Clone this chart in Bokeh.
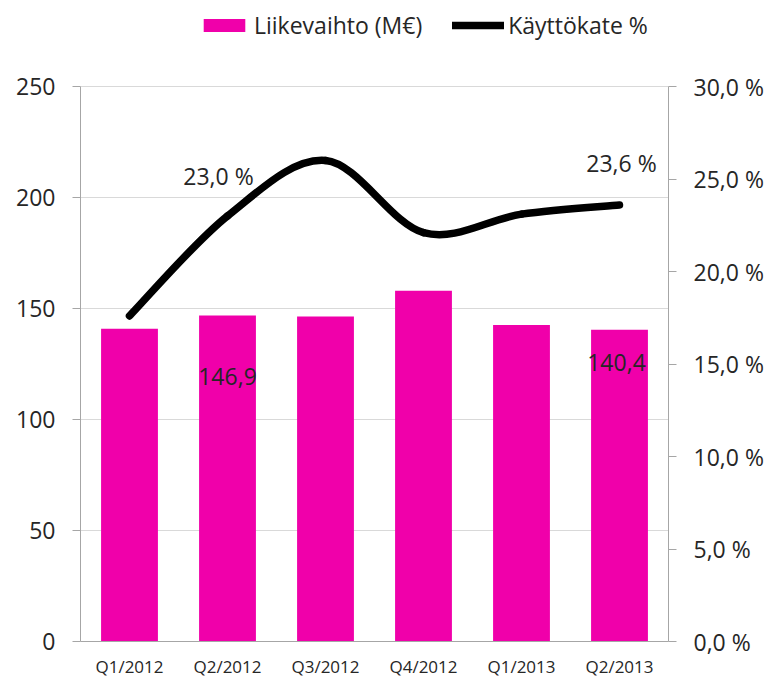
from bokeh.plotting import figure
from bokeh.models import Range1d, LinearAxis, FixedTicker, Legend, LegendItem, ColumnDataSource
from bokeh.core.properties import value
from bokeh.embed import file_html
from bokeh.resources import INLINE

# ---- data ----
quarters = ["Q1/2012", "Q2/2012", "Q3/2012", "Q4/2012", "Q1/2013", "Q2/2013"]
revenue = [140.9, 146.9, 146.4, 158.0, 142.6, 140.4]          # Liikevaihto (M€)
ebitda_pct = [17.6, 23.0, 26.0, 22.1, 23.1, 23.6]             # Käyttökate %
left_ticks = [0, 50, 100, 150, 200, 250]
right_ticks = [0, 5, 10, 15, 20, 25, 30]
right_tick_labels = ["0,0 %", "5,0 %", "10,0 %", "15,0 %", "20,0 %", "25,0 %", "30,0 %"]
pct_label_idx = [1, 5]
pct_label_text = ["23,0 %", "23,6 %"]
bar_label_idx = [1, 5]
bar_label_text = ["146,9", "140,4"]

FONT = "Open Sans"
TXT = "#262626"
PINK = "#F000AA"
AX = "#a6a6a6"

n = len(quarters)
xs = [i + 0.5 for i in range(n)]

# layout geometry (pixels): axis area spans 86..641 for 0..250; frame top at 6
TOP_B, BOT_B = 6, 39
y_max, pct_max = 250, 30
px_per = (641 - 86) / y_max
y_top = y_max + (86 - TOP_B) / px_per
pct_top = pct_max + (86 - TOP_B) / ((641 - 86) / pct_max)

p = figure(width=768, height=680, output_backend="svg", toolbar_location=None,
           x_range=Range1d(0, n), y_range=Range1d(0, y_top),
           min_border_left=80, min_border_right=100, min_border_top=TOP_B,
           min_border_bottom=BOT_B)
p.extra_y_ranges = {"pct": Range1d(0, pct_top)}
p.outline_line_color = None
p.background_fill_color = "white"
p.border_fill_color = "white"

# bars
bar_src = ColumnDataSource(dict(x=xs, top=revenue))
bars = p.vbar(x="x", top="top", bottom=0, width=0.58, source=bar_src,
              fill_color=PINK, line_color=None)

# smoothed line via bezier segments (Catmull-Rom control points from data)
x0, y0, x1, y1, cx0, cy0, cx1, cy1 = [], [], [], [], [], [], [], []
for i in range(n - 1):
    pa = (xs[i - 1], ebitda_pct[i - 1]) if i > 0 else (xs[i], ebitda_pct[i])
    pb = (xs[i], ebitda_pct[i])
    pc = (xs[i + 1], ebitda_pct[i + 1])
    pd = (xs[i + 2], ebitda_pct[i + 2]) if i + 2 < n else pc
    x0.append(pb[0]); y0.append(pb[1]); x1.append(pc[0]); y1.append(pc[1])
    cx0.append(pb[0] + (pc[0] - pa[0]) / 6.0); cy0.append(pb[1] + (pc[1] - pa[1]) / 6.0)
    cx1.append(pc[0] - (pd[0] - pb[0]) / 6.0); cy1.append(pc[1] - (pd[1] - pb[1]) / 6.0)
LW = 7.5
p.bezier(x0=x0, y0=y0, x1=x1, y1=y1, cx0=cx0, cy0=cy0, cx1=cx1, cy1=cy1,
         line_color="black", line_width=LW, line_cap="round", y_range_name="pct")
# legend proxy for the line series (no visible data)
nan = float("nan")
legend_line = p.line(x=[xs[0], xs[1]], y=[nan, nan], line_color="black", line_width=LW,
                     line_cap="round", y_range_name="pct")

# data labels
p.text(x=[xs[i] for i in pct_label_idx], y=[ebitda_pct[i] for i in pct_label_idx],
       text=pct_label_text, x_offset=[-9, 2], y_offset=[-40, -42], y_range_name="pct",
       text_align="center", text_baseline="middle", text_font=value(FONT),
       text_font_size="23px", text_color=TXT)
p.text(x=[xs[i] for i in bar_label_idx], y=[revenue[i] for i in bar_label_idx],
       text=bar_label_text, x_offset=[0, -3], y_offset=[61, 33],
       text_align="center", text_baseline="middle", text_font=value(FONT),
       text_font_size="23px", text_color=TXT)

# axes
p.xgrid.grid_line_color = None
p.ygrid.grid_line_color = "#d9d9d9"
p.ygrid.ticker = FixedTicker(ticks=left_ticks)

xa = p.xaxis[0]
xa.ticker = FixedTicker(ticks=xs)
xa.major_label_overrides = {x: q for x, q in zip(xs, quarters)}
xa.major_tick_line_color = None
xa.major_tick_out = 0
xa.major_tick_in = 0
xa.minor_tick_line_color = None
xa.axis_line_color = AX
xa.major_label_standoff = 13
xa.major_label_text_font = FONT
xa.major_label_text_font_size = "17px"
xa.major_label_text_color = TXT

ya = p.yaxis[0]
ya.ticker = FixedTicker(ticks=left_ticks)
ya.bounds = (0, y_max)
ya.axis_line_color = AX
ya.major_tick_line_color = AX
ya.major_tick_out = 8
ya.major_tick_in = 0
ya.minor_tick_line_color = None
ya.major_label_standoff = 17
ya.major_label_text_font = FONT
ya.major_label_text_font_size = "23px"
ya.major_label_text_color = TXT

ra = LinearAxis(y_range_name="pct", ticker=FixedTicker(ticks=right_ticks))
ra.bounds = (0, pct_max)
ra.major_label_overrides = {t: l for t, l in zip(right_ticks, right_tick_labels)}
ra.axis_line_color = AX
ra.major_tick_line_color = AX
ra.major_tick_out = 8
ra.major_tick_in = 0
ra.minor_tick_line_color = None
ra.major_label_standoff = 17
ra.major_label_text_font = FONT
ra.major_label_text_font_size = "23px"
ra.major_label_text_color = TXT
p.add_layout(ra, "right")

legend = Legend(items=[LegendItem(label="Liikevaihto (M€)", renderers=[bars]),
                       LegendItem(label="Käyttökate %", renderers=[legend_line])],
                orientation="horizontal", location=(118, 600),
                glyph_width=52, glyph_height=16, label_standoff=4, spacing=30,
                padding=0, margin=0, border_line_color=None, background_fill_alpha=0,
                label_text_font=FONT, label_text_font_size="23px", label_text_color=TXT)
p.add_layout(legend)

open("out.html", "w").write(file_html(p, INLINE))
